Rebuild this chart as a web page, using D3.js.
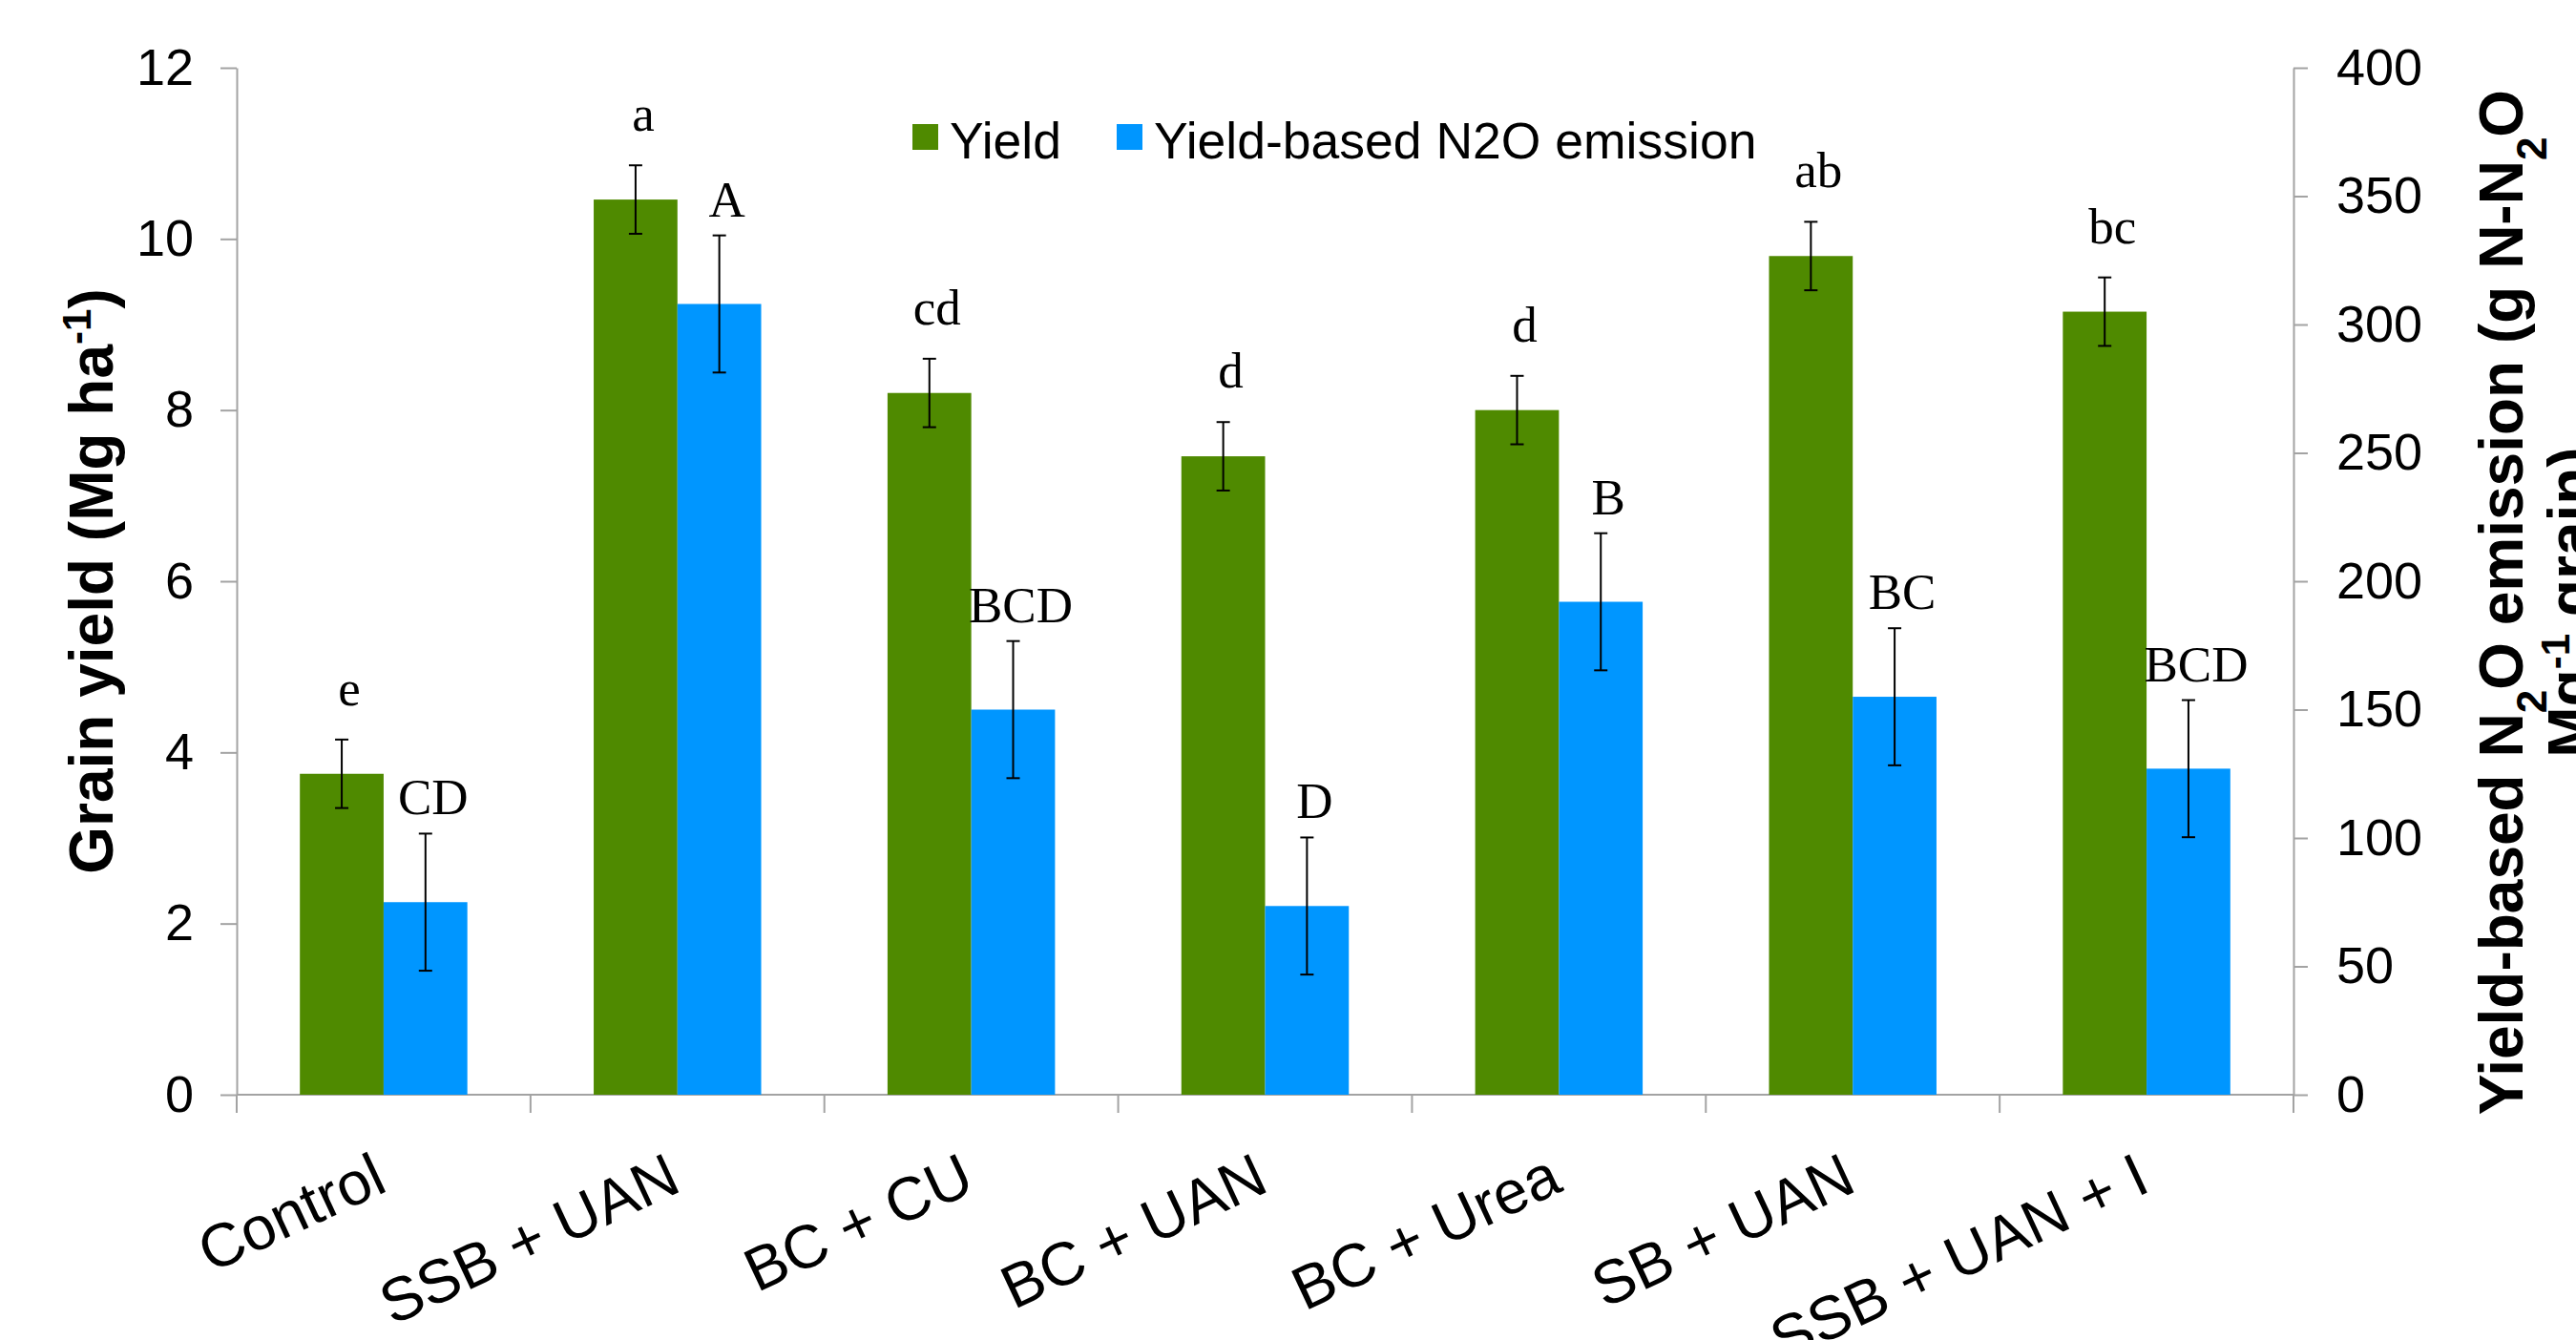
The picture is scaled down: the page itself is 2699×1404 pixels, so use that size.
<!DOCTYPE html>
<html lang="en">
<head>
<meta charset="UTF-8">
<title>Grain yield and yield-based N2O emission</title>
<script src="https://cdn.jsdelivr.net/npm/d3@7/dist/d3.min.js"></script>
<style>
    body { margin: 0; background: #fff; }
    svg { display: block; font-family: Arial, "Liberation Sans", sans-serif; }
    .axis path, .axis line { stroke: #a3a3a3; stroke-width: 2; }
    .axis text { font-size: 54px; fill: #000; font-family: Arial, "Liberation Sans", sans-serif; }
    .letter { font-family: "Times New Roman", "Liberation Serif", serif; font-size: 53px; text-anchor: middle; }
    .title { font-size: 64px; font-weight: bold; text-anchor: middle; }
    .legend text { font-size: 53.5px; }
</style>
</head>
<body>
<div id="chart"></div>
<script>
// data
const categories = ["Control", "SSB + UAN", "BC + CU", "BC + UAN", "BC + Urea", "SB + UAN", "SSB + UAN + I"];
const yieldValues = [3.75, 10.46, 8.2, 7.46, 8.0, 9.8, 9.15];      // Mg ha-1
const yieldErrors = [0.4, 0.4, 0.4, 0.4, 0.4, 0.4, 0.4];
const n2oValues = [75, 308, 150, 73.5, 192, 155, 127];             // g N-N2O Mg-1 grain
const n2oErrors = [26.7, 26.7, 26.7, 26.7, 26.7, 26.7, 26.7];
const yieldLetters = ["e", "a", "cd", "d", "d", "ab", "bc"];
const n2oLetters = ["CD", "A", "BCD", "D", "B", "BC", "BCD"];
const leftTicks = [0, 2, 4, 6, 8, 10, 12];
const rightTicks = [0, 50, 100, 150, 200, 250, 300, 350, 400];
const seriesNames = ["Yield", "Yield-based N2O emission"];
const seriesColors = ["#4f8a00", "#0096ff"];

const width = 2699, height = 1404;
const plotLeft = 248, plotRight = 2403, plotTop = 71, plotBottom = 1147;
const letterGap = [36, 20];   // letter baseline above the error bar top, per series

const svg = d3.select("#chart").append("svg")
    .attr("width", width)
    .attr("height", height);

const x = d3.scaleBand()
    .domain(categories)
    .range([plotLeft, plotRight])
    .paddingInner(0.43)
    .paddingOuter(0.215);

const xs = d3.scaleBand()
    .domain([0, 1])
    .range([0, x.bandwidth()]);

const yL = d3.scaleLinear().domain([0, 12]).range([plotBottom, plotTop]);
const yR = d3.scaleLinear().domain([0, 400]).range([plotBottom, plotTop]);

const rows = categories.map((c, i) => ({
    cat: c,
    bars: [
        {s: 0, v: yieldValues[i], e: yieldErrors[i], letter: yieldLetters[i], y: yL},
        {s: 1, v: n2oValues[i], e: n2oErrors[i], letter: n2oLetters[i], y: yR}
    ]
}));

// axes
svg.append("g")
    .attr("class", "axis")
    .attr("transform", `translate(${plotLeft},0)`)
    .call(d3.axisLeft(yL).tickValues(leftTicks).tickSize(17).tickSizeOuter(0).tickPadding(28));

svg.append("g")
    .attr("class", "axis")
    .attr("transform", `translate(${plotRight},0)`)
    .call(d3.axisRight(yR).tickValues(rightTicks).tickSize(15).tickSizeOuter(0).tickPadding(30));

svg.selectAll(".axis .tick text").attr("font-size", null).attr("font-family", null);

// x axis line and category boundary ticks
const step = x.step();
const bounds = d3.range(categories.length + 1).map(i => plotLeft + i * step);
const xg = svg.append("g").attr("class", "axis");
xg.append("line")
    .attr("x1", plotLeft).attr("x2", plotRight)
    .attr("y1", plotBottom).attr("y2", plotBottom);
xg.selectAll(".bt").data(bounds).enter().append("line")
    .attr("x1", d => d).attr("x2", d => d)
    .attr("y1", plotBottom).attr("y2", plotBottom + 19);

// bars
const groups = svg.selectAll(".cat")
    .data(rows)
    .enter().append("g")
    .attr("class", "cat")
    .attr("transform", d => `translate(${x(d.cat)},0)`);

const bar = groups.selectAll(".bar")
    .data(d => d.bars)
    .enter().append("g");

bar.append("rect")
    .attr("x", d => xs(d.s))
    .attr("width", xs.bandwidth())
    .attr("y", d => d.y(d.v))
    .attr("height", d => plotBottom - d.y(d.v))
    .attr("fill", d => seriesColors[d.s]);

// error bars
const cap = 7;
bar.append("line")
    .attr("x1", d => xs(d.s) + xs.bandwidth() / 2)
    .attr("x2", d => xs(d.s) + xs.bandwidth() / 2)
    .attr("y1", d => d.y(d.v + d.e))
    .attr("y2", d => d.y(d.v - d.e))
    .attr("stroke", "#000").attr("stroke-width", 2);
[1, -1].forEach(sign => {
    bar.append("line")
        .attr("x1", d => xs(d.s) + xs.bandwidth() / 2 - cap)
        .attr("x2", d => xs(d.s) + xs.bandwidth() / 2 + cap)
        .attr("y1", d => d.y(d.v + sign * d.e))
        .attr("y2", d => d.y(d.v + sign * d.e))
        .attr("stroke", "#000").attr("stroke-width", 2);
});

// significance letters
bar.append("text")
    .attr("class", "letter")
    .attr("x", d => xs(d.s) + xs.bandwidth() / 2 + 8)
    .attr("y", d => d.y(d.v + d.e) - letterGap[d.s])
    .text(d => d.letter);

// category labels
svg.selectAll(".xlab")
    .data(categories)
    .enter().append("text")
    .attr("class", "xlab")
    .attr("transform", d => `translate(${x(d) + x.bandwidth() / 2 + 6},${plotBottom + 100}) rotate(-25)`)
    .attr("text-anchor", "end")
    .style("font-size", "64px")
    .text(d => d);

// left title
const lt = svg.append("text")
    .attr("class", "title")
    .attr("transform", `translate(118,${(plotTop + plotBottom) / 2}) rotate(-90)`);
lt.append("tspan").text("Grain yield (Mg ha");
lt.append("tspan").attr("baseline-shift", "super").style("font-size", "42px").text("-1");
lt.append("tspan").text(")");

// right title, two lines
const rt = svg.append("g").attr("transform", `translate(2643,631) rotate(-90)`);
const r1 = rt.append("text").attr("class", "title");
r1.append("tspan").text("Yield-based N");
r1.append("tspan").attr("baseline-shift", "sub").style("font-size", "44px").text("2");
r1.append("tspan").text("O emission (g N-N");
r1.append("tspan").attr("baseline-shift", "sub").style("font-size", "44px").text("2");
r1.append("tspan").text("O");
const r2 = rt.append("text").attr("class", "title").attr("y", 72);
r2.append("tspan").text("Mg");
r2.append("tspan").attr("baseline-shift", "super").style("font-size", "42px").text("-1");
r2.append("tspan").text(" grain)");

// legend
const legendX = [956, 1170];
const lg = svg.append("g").attr("class", "legend");
const li = lg.selectAll("g").data(seriesNames).enter().append("g")
    .attr("transform", (d, i) => `translate(${legendX[i]},130)`);
li.append("rect").attr("width", 27).attr("height", 27).attr("fill", (d, i) => seriesColors[i]);
li.append("text").attr("x", 39).attr("y", 36).text(d => d);
</script>
</body>
</html>
